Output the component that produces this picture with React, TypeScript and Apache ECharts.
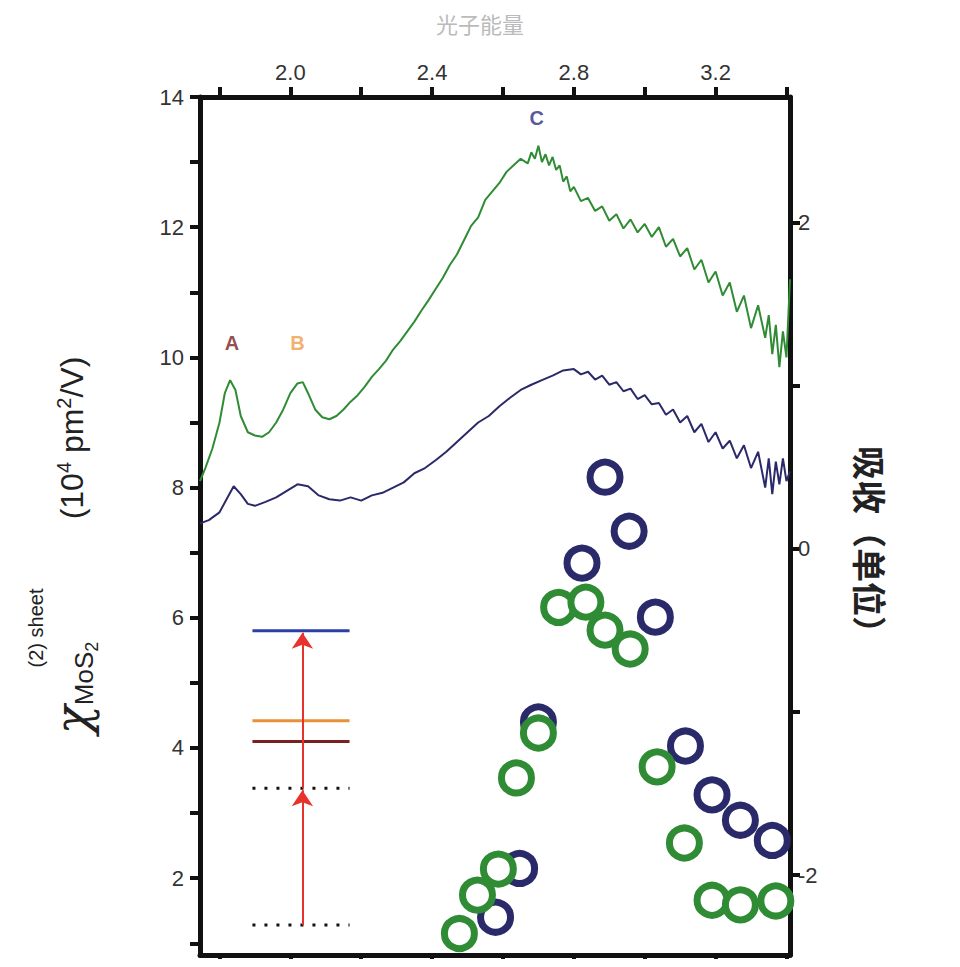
import React, { useEffect, useRef } from "react";
import * as echarts from "echarts";

const greenSpectrum: number[][] = [
  [1.745, 8.1], [1.76, 8.3], [1.78, 8.6], [1.8, 9.0], [1.815, 9.45], [1.83, 9.65], [1.845, 9.5],
  [1.86, 9.1], [1.88, 8.85], [1.9, 8.8], [1.92, 8.78], [1.94, 8.85], [1.96, 9.0], [1.98, 9.2],
  [2.0, 9.45], [2.02, 9.6], [2.035, 9.62], [2.05, 9.45], [2.07, 9.2], [2.09, 9.08], [2.11, 9.05],
  [2.13, 9.1], [2.15, 9.2], [2.17, 9.32], [2.19, 9.42], [2.21, 9.55], [2.23, 9.7], [2.25, 9.82],
  [2.27, 9.95], [2.29, 10.12], [2.31, 10.25], [2.33, 10.4], [2.35, 10.55], [2.37, 10.72],
  [2.39, 10.88], [2.41, 11.05], [2.43, 11.22], [2.45, 11.42], [2.47, 11.58], [2.49, 11.8],
  [2.51, 12.02], [2.53, 12.15], [2.55, 12.42], [2.57, 12.55], [2.59, 12.68], [2.61, 12.85],
  [2.63, 12.95], [2.65, 13.05], [2.67, 12.98], [2.68, 13.15], [2.69, 13.05], [2.7, 13.25],
  [2.71, 13.0], [2.72, 13.12], [2.73, 12.95], [2.74, 13.08], [2.75, 12.88], [2.76, 12.95],
  [2.77, 12.7], [2.78, 12.78], [2.79, 12.55], [2.8, 12.62], [2.82, 12.4], [2.84, 12.45],
  [2.86, 12.25], [2.88, 12.32], [2.9, 12.1], [2.92, 12.2], [2.94, 11.98], [2.96, 12.12],
  [2.98, 11.92], [3.0, 12.05], [3.02, 11.85], [3.04, 12.0], [3.06, 11.7], [3.08, 11.82],
  [3.1, 11.55], [3.12, 11.68], [3.14, 11.35], [3.16, 11.5], [3.18, 11.15], [3.2, 11.32],
  [3.22, 10.95], [3.24, 11.15], [3.26, 10.7], [3.28, 10.95], [3.3, 10.45], [3.32, 10.8],
  [3.34, 10.3], [3.35, 10.65], [3.36, 10.05], [3.37, 10.5], [3.38, 9.85], [3.39, 10.4],
  [3.4, 10.0], [3.41, 11.2],
];

const navySpectrum: number[][] = [
  [1.745, 7.45], [1.77, 7.5], [1.8, 7.62], [1.82, 7.82], [1.84, 8.02], [1.86, 7.9], [1.88, 7.75],
  [1.9, 7.72], [1.93, 7.78], [1.96, 7.85], [1.99, 7.95], [2.02, 8.05], [2.05, 8.02], [2.08, 7.88],
  [2.11, 7.82], [2.14, 7.8], [2.17, 7.85], [2.2, 7.8], [2.23, 7.88], [2.26, 7.92], [2.29, 8.0],
  [2.32, 8.08], [2.35, 8.22], [2.38, 8.3], [2.41, 8.42], [2.44, 8.55], [2.47, 8.7], [2.5, 8.85],
  [2.53, 9.0], [2.56, 9.1], [2.59, 9.25], [2.62, 9.38], [2.65, 9.5], [2.68, 9.58], [2.71, 9.65],
  [2.74, 9.72], [2.77, 9.8], [2.8, 9.82], [2.82, 9.74], [2.84, 9.78], [2.86, 9.66], [2.88, 9.72],
  [2.9, 9.58], [2.92, 9.62], [2.94, 9.48], [2.96, 9.52], [2.98, 9.36], [3.0, 9.42], [3.02, 9.28],
  [3.04, 9.3], [3.06, 9.12], [3.08, 9.2], [3.1, 9.0], [3.12, 9.1], [3.14, 8.85], [3.16, 8.98],
  [3.18, 8.7], [3.2, 8.85], [3.22, 8.6], [3.24, 8.72], [3.26, 8.45], [3.28, 8.65], [3.3, 8.3],
  [3.32, 8.55], [3.34, 8.0], [3.35, 8.45], [3.36, 7.9], [3.37, 8.4], [3.38, 8.05], [3.39, 8.45],
  [3.4, 8.1], [3.41, 8.25],
];

const navyCircles: number[][] = [
  [2.579, 1.4], [2.647, 2.15], [2.7, 4.4], [2.823, 6.84], [2.888, 8.16], [2.956, 7.33],
  [3.03, 6.01], [3.115, 4.03], [3.19, 3.28], [3.27, 2.89], [3.36, 2.58],
];

const greenCircles: number[][] = [
  [2.477, 1.15], [2.528, 1.74], [2.587, 2.14], [2.638, 3.54], [2.7, 4.23], [2.757, 6.16],
  [2.834, 6.24], [2.888, 5.81], [2.959, 5.52], [3.035, 3.71], [3.112, 2.54], [3.19, 1.66],
  [3.27, 1.59], [3.37, 1.65],
];

const xTicks = [1.8, 2.0, 2.2, 2.4, 2.6, 2.8, 3.0, 3.2, 3.4];
const xLabels = [2.0, 2.4, 2.8, 3.2];
const leftTicks = [1, 2, 3, 4, 5, 6, 7, 8, 9, 10, 11, 12, 13, 14];
const leftLabels = [2, 4, 6, 8, 10, 12, 14];
const rightTicks = [-2, -1, 0, 1, 2];
const rightLabels = [-2, 0, 2];

// energy-level diagram (left-axis units)
const levels = [
  { y: 5.8, color: "#2b3fa8", dotted: false },
  { y: 4.42, color: "#e8913a", dotted: false },
  { y: 4.1, color: "#7a2020", dotted: false },
  { y: 3.38, color: "#111", dotted: true },
  { y: 1.28, color: "#111", dotted: true },
];
const levelX = [1.893, 2.167];
const arrowX = 2.034;
const arrows = [[1.28, 3.38], [3.38, 5.8]];

const peakLabels = [
  { name: "A", x: 1.835, y: 10.22, color: "#7a2020" },
  { name: "B", x: 2.02, y: 10.22, color: "#ef9a4a" },
  { name: "C", x: 2.695, y: 13.68, color: "#2b2b80" },
];

const GREEN = "#2f8c34";
const NAVY = "#2a2a6a";

const App = () => {
  const ref = useRef<HTMLDivElement>(null);

  useEffect(() => {
    if (!ref.current) return;
    const chart = echarts.init(ref.current, null, { renderer: "svg" });
    const font = "Liberation Sans, Arial, sans-serif";
    const axisLine = { show: true, onZero: false, lineStyle: { color: "#111", width: 5 } };

    const series: any[] = [
      {
        type: "line", data: greenSpectrum, showSymbol: false,
        lineStyle: { color: GREEN, width: 2 }, z: 2,
      },
      {
        type: "line", data: navySpectrum, showSymbol: false,
        lineStyle: { color: NAVY, width: 2 }, z: 2,
      },
      {
        type: "scatter", data: navyCircles, symbol: "circle", symbolSize: 30,
        itemStyle: { color: "#fff", borderColor: NAVY, borderWidth: 7, opacity: 1 }, z: 3,
      },
      {
        type: "scatter", data: greenCircles, symbol: "circle", symbolSize: 30,
        itemStyle: { color: "#fff", borderColor: GREEN, borderWidth: 7, opacity: 1 }, z: 4,
      },
      {
        type: "scatter", symbolSize: 0,
        data: peakLabels.map((p) => ({
          value: [p.x, p.y],
          label: {
            show: true, formatter: p.name, color: p.color, fontSize: 20,
            fontWeight: "bold", fontFamily: font,
          },
        })),
        z: 5,
      },
    ];
    levels.forEach((l) => {
      series.push({
        type: "line", data: [[levelX[0], l.y], [levelX[1], l.y]], showSymbol: false,
        lineStyle: { color: l.color, width: 3, type: l.dotted ? [3, 9] : "solid" },
        z: 5,
      });
    });
    series.push({
      type: "lines", coordinateSystem: "cartesian2d",
      symbol: ["none", "arrow"], symbolSize: 16,
      lineStyle: { color: "#e8322e", width: 2, opacity: 1 },
      data: arrows.map((a) => ({ coords: [[arrowX, a[0]], [arrowX, a[1] - 0.03]] })),
      z: 6,
    });

    chart.setOption({
      animation: false,
      grid: { left: 192, right: 162, top: 89, bottom: 4 },
      xAxis: [
        {
          type: "value", position: "top", min: 1.745, max: 3.41,
          axisLine,
          axisTick: { show: true, customValues: xTicks, length: 10, lineStyle: { color: "#111", width: 4 } },
          axisLabel: {
            customValues: xLabels, formatter: (v: number) => v.toFixed(1),
            fontSize: 22, color: "#333", fontFamily: font, margin: 14,
          },
          splitLine: { show: false },
        },
        {
          type: "value", position: "bottom", min: 1.745, max: 3.41,
          axisLine,
          axisTick: { show: true, customValues: xTicks, length: 10, lineStyle: { color: "#111", width: 4 } },
          axisLabel: { show: false },
          splitLine: { show: false },
        },
      ],
      yAxis: [
        {
          type: "value", position: "left", min: 0.82, max: 14,
          axisLine,
          axisTick: { show: true, customValues: leftTicks, length: 10, lineStyle: { color: "#111", width: 4 } },
          axisLabel: {
            customValues: leftLabels, fontSize: 22, color: "#333", fontFamily: font, margin: 16,
          },
          splitLine: { show: false },
        },
        {
          type: "value", position: "right", min: -2.49, max: 2.77,
          axisLine,
          axisTick: { show: true, customValues: rightTicks, length: 10, lineStyle: { color: "#111", width: 4 } },
          axisLabel: {
            customValues: rightLabels, fontSize: 22, color: "#333", fontFamily: font, margin: 8,
          },
          splitLine: { show: false },
        },
      ],
      graphic: [
        {
          type: "text", left: "center", top: 4, silent: true,
          style: { text: "光子能量", fontSize: 22, fill: "#bbb", fontFamily: "Noto Sans CJK SC" },
        },
        {
          type: "text", x: 64, y: 430, rotation: Math.PI / 2, silent: true,
          style: {
            text: "{p|(10}{s|4}{p| pm}{s|2}{p|/V)}",
            align: "center", verticalAlign: "middle",
            rich: {
              p: { fontSize: 32, fill: "#222", fontFamily: font },
              s: { fontSize: 20, fill: "#222", fontFamily: font, verticalAlign: "top", padding: [0, 0, 16, 0] },
            },
          },
        },
        {
          type: "text", x: 64, y: 680, rotation: Math.PI / 2, silent: true,
          style: {
            text: "{c|χ}{b|MoS}{bs|2}",
            align: "center", verticalAlign: "middle",
            rich: {
              c: { fontSize: 48, fill: "#222", fontFamily: "DejaVu Serif", fontStyle: "italic" },
              b: { fontSize: 26, fill: "#222", fontFamily: font, padding: [24, 0, 0, 0] },
              bs: { fontSize: 18, fill: "#222", fontFamily: font, padding: [40, 0, 0, 0] },
            },
          },
        },
        {
          type: "text", x: 28, y: 620, rotation: Math.PI / 2, silent: true,
          style: {
            text: "(2) sheet", align: "center", verticalAlign: "middle",
            fontSize: 20, fill: "#222", fontFamily: font,
          },
        },
        {
          type: "text", x: 862, y: 540, rotation: -Math.PI / 2, silent: true,
          style: {
            text: "吸收（单位）", align: "center", verticalAlign: "middle",
            fontSize: 34, fontWeight: "bold", fill: "#222", fontFamily: "Noto Sans CJK SC",
          },
        },
      ],
      series,
    });

    return () => chart.dispose();
  }, []);

  return <div ref={ref} style={{ width: 944, height: 951 }} />;
};

export default App;
